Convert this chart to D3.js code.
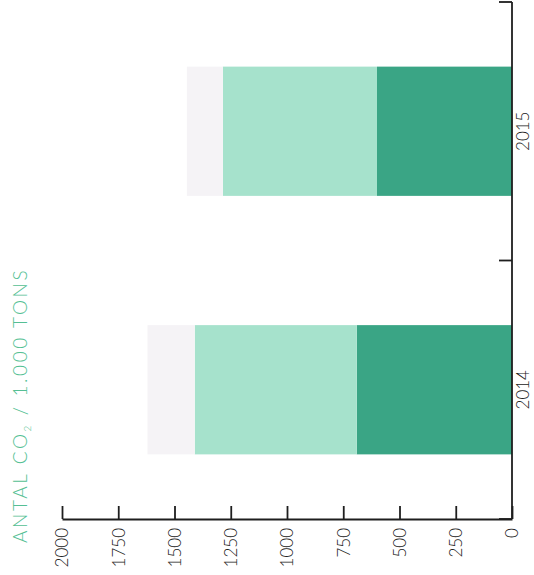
<!DOCTYPE html>
<html>
<head>
<meta charset="utf-8">
<script src="https://cdn.jsdelivr.net/npm/d3@7"></script>
<style>
  html, body { margin: 0; padding: 0; background: #ffffff; }
  svg { display: block; }
  text { font-family: "Lato", "Open Sans", sans-serif; font-weight: 300; }
</style>
</head>
<body>
<script>
// ---- Data ----
const years = ["2015", "2014"];
const seriesNames = ["Scope 1", "Scope 2", "Scope 3"];
const scope1 = [600, 690];
const scope2 = [685, 720];
const scope3 = [160, 210];
const valueTicks = [0, 250, 500, 750, 1000, 1250, 1500, 1750, 2000];
const titleText = "ANTAL CO";
const titleSub = "2";
const titleRest = " / 1.000 TONS";
const colors = ["#3aa585", "#a6e2cc", "#f5f3f6"];

const W = 534, H = 575;
const svg = d3.select("body").append("svg").attr("width", W).attr("height", H);

const x = d3.scaleLinear().domain([0, 2000]).range([512, 62]);
const y = d3.scaleBand().domain(years).range([2, 519]).paddingInner(0.5).paddingOuter(0.25);

const rows = years.map((yr, i) => ({ year: yr, "Scope 1": scope1[i], "Scope 2": scope2[i], "Scope 3": scope3[i] }));
const stacked = d3.stack().keys(seriesNames)(rows);

svg.append("g").selectAll("g").data(stacked).join("g")
  .attr("fill", (d, i) => colors[i])
  .selectAll("rect").data(d => d).join("rect")
  .attr("x", d => x(d[1]))
  .attr("width", d => x(d[0]) - x(d[1]))
  .attr("y", d => y(d.data.year))
  .attr("height", y.bandwidth());

// Value axis (bottom)
const axisColor = "#1e1e1e";
const gx = svg.append("g").attr("transform", "translate(0,519)")
  .call(d3.axisBottom(x).tickValues(valueTicks).tickSizeInner(-13).tickSizeOuter(0).tickFormat(d3.format("d")));
gx.select(".domain").attr("stroke", axisColor).attr("stroke-width", 1.8);
gx.selectAll(".tick line").attr("stroke", axisColor).attr("stroke-width", 1.8);
gx.selectAll(".tick text")
  .attr("font-size", 17).attr("fill", "#222")
  .attr("transform", "rotate(-90)")
  .attr("text-anchor", "end")
  .attr("x", -9).attr("y", 0).attr("dy", "0.35em");

// Category axis (right)
const gy = svg.append("g").attr("transform", "translate(512,0)")
  .call(d3.axisRight(y).tickSize(0).tickPadding(0));
gy.select(".domain").remove();
gy.selectAll(".tick text")
  .attr("font-size", 17).attr("fill", "#222")
  .attr("transform", "rotate(-90)")
  .attr("text-anchor", "middle")
  .attr("x", 0).attr("y", 17).attr("dy", 0);

const r = y.range();
const bounds = [r[0], (r[0] + r[1]) / 2, r[1]];
svg.append("line").attr("x1", 512).attr("x2", 512).attr("y1", r[0]).attr("y2", r[1])
  .attr("stroke", axisColor).attr("stroke-width", 1.8);
svg.append("g").selectAll("line").data(bounds).join("line")
  .attr("x1", 499).attr("x2", 512).attr("y1", d => d).attr("y2", d => d)
  .attr("stroke", axisColor).attr("stroke-width", 1.8);

// Title
const t = svg.append("text")
  .attr("transform", "translate(27,543) rotate(-90)")
  .attr("font-size", 19).attr("fill", "#55bf94").attr("letter-spacing", 2.6);
t.append("tspan").text(titleText);
t.append("tspan").attr("font-size", 10).attr("dy", 4).text(titleSub);
t.append("tspan").attr("dy", -4).text(titleRest);
</script>
</body>
</html>
